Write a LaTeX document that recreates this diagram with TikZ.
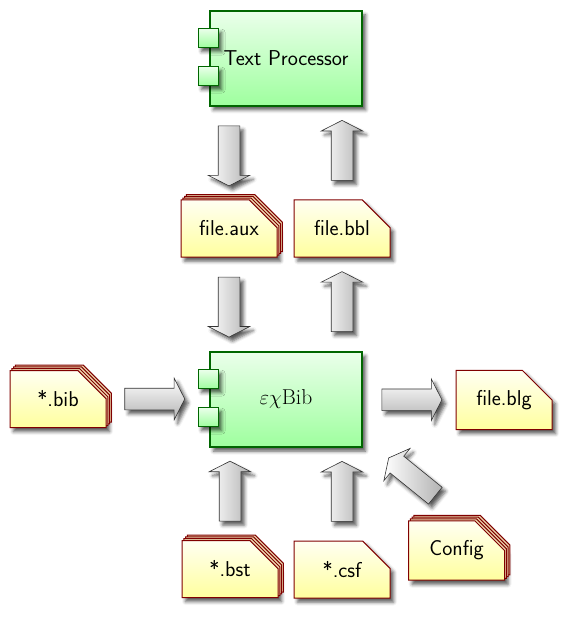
\documentclass[tikz,border=0pt]{standalone}
\usetikzlibrary{shapes.arrows,shapes.misc,shadows,shadows.blur,calc}
\begin{document}
\begin{tikzpicture}[x=1pt,y=-1pt,
  font=\sffamily\fontsize{21.5}{25}\selectfont,
  shad/.style={blur shadow={shadow xshift=3.5pt,shadow yshift=-4pt,shadow blur radius=3.5pt,shadow opacity=65}},
  comp/.style={rectangle, draw=green!40!black, line width=1.6pt, top color=green!8!white, bottom color=green!38!white, minimum width=152pt, minimum height=95pt, inner sep=0pt, shad},
  port/.style={rectangle, draw=green!40!black, line width=1.4pt, top color=green!8!white, bottom color=green!38!white, minimum width=20pt, minimum height=19pt, inner sep=0pt, shad},
  docbase/.style={chamfered rectangle, chamfered rectangle corners=north east, chamfered rectangle xsep=20pt, chamfered rectangle ysep=20pt, draw=red!50!black, line width=1pt, top color=yellow!5!white, bottom color=yellow!38!white, minimum width=96pt, minimum height=57pt, inner sep=0pt},
  doc/.style={docbase, shad},
  layer/.style={general shadow={shadow xshift=#1, shadow yshift=#1, fill=yellow!20!brown!40!white, draw=red!50!black, line width=1pt}},
  stackdoc/.style={docbase, shad, layer=5.4pt, layer=3.6pt, layer=1.8pt},
  fat/.style={single arrow, draw=black!80, line width=0.6pt, minimum height=60pt, minimum width=41pt, inner sep=0pt, inner ysep=10.5pt, single arrow head extend=10pt, single arrow tip angle=126, shad},
  hfat/.style={fat, top color=white, bottom color=black!30},
  vfat/.style={fat, left color=white, right color=black!30}
]
\useasboundingbox (0,0) rectangle (576,620);

% components
\node[comp] (tp) at (286,58.5) {Text Processor};
\node[port] (tpp1) at ($(tp.north west)+(-1,28)$) {};
\node[port] (tpp2) at ($(tp.north west)+(-1,66)$) {};

\node[comp] (exbib) at (286,399.5) {\rmfamily$\varepsilon\chi$Bib};
\node[port] (exp1) at ($(exbib.north west)+(-1,28)$) {};
\node[port] (exp2) at ($(exbib.north west)+(-1,66)$) {};

% documents
\node[stackdoc] (aux) at (229,228.5) {file.aux};
\node[doc] (bbl) at (342,228.5) {file.bbl};
\node[stackdoc] (bib) at (58,399) {*.bib};
\node[doc] (blg) at (504,400) {file.blg};
\node[stackdoc] (bst) at (230,569) {*.bst};
\node[doc] (csf) at (342,569.5) {*.csf};
\node[stackdoc] (cfg) at (456.5,550.5) {Config};

% fat arrows
\node[vfat, rotate=-90] (a1) at ($(tp.south -| aux.center)!0.5!(aux.north)$) {};
\node[vfat, rotate=90] (a2) at ($(tp.south -| bbl.center)!0.5!(bbl.north)$) {};
\node[vfat, rotate=-90] (a3) at ($(aux.south)!0.5!(exbib.north -| aux.center)$) {};
\node[vfat, rotate=90] (a4) at ($(bbl.south)!0.5!(exbib.north -| bbl.center)$) {};
\node[hfat] (a5) at ($(bib.east)!0.5!(exp1.west |- bib.east)$) {};
\node[hfat] (a6) at ($(exbib.east)!0.5!(blg.west)$) {};
\node[vfat, rotate=90] (a7) at ($(bst.north)!0.5!(exbib.south -| bst.center)$) {};
\node[vfat, rotate=90] (a8) at ($(csf.north)!0.5!(exbib.south -| csf.center)$) {};
\node[vfat, rotate=141] (a9) at ($($(cfg.north)!0.5!(exbib.south east)$)+(4.5,-5.5)$) {};
\end{tikzpicture}
\end{document}
